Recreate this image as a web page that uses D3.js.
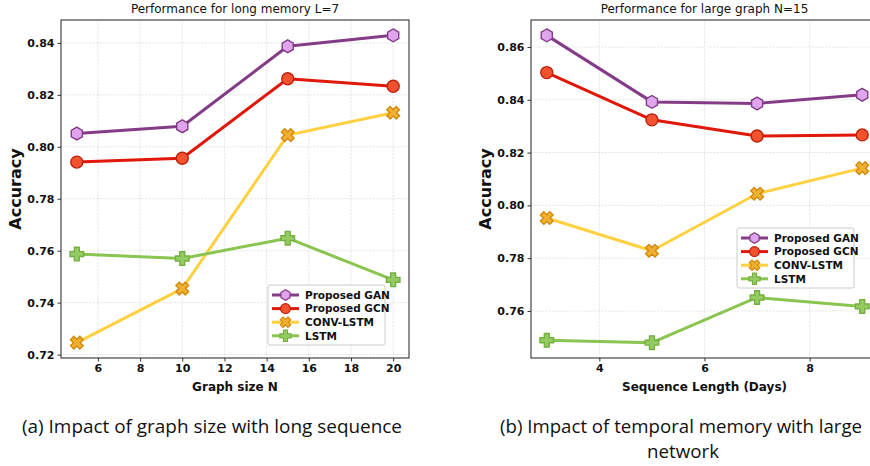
<!DOCTYPE html>
<html>
<head>
<meta charset="utf-8">
<script src="https://cdn.jsdelivr.net/npm/d3@7"></script>
<style>
  body { margin: 0; background: #fff; }
  svg { display: block; font-family: "DejaVu Sans", sans-serif; }
</style>
</head>
<body>
<div id="chart"></div>
<script>
// series names
const seriesNames = ["Proposed GAN", "Proposed GCN", "CONV-LSTM", "LSTM"];

// panel (a): accuracy vs graph size N (L=7)
const graphSizes = [5, 10, 15, 20];
const ganA = [0.8051, 0.8079, 0.8387, 0.8429];
const gcnA = [0.7941, 0.7956, 0.8262, 0.8233];
const convA = [0.7246, 0.7454, 0.8045, 0.8131];
const lstmA = [0.7587, 0.7570, 0.7648, 0.7488];
const xTicksA = [6, 8, 10, 12, 14, 16, 18, 20];
const yTicksA = [0.72, 0.74, 0.76, 0.78, 0.80, 0.82, 0.84];

// panel (b): accuracy vs sequence length (N=15)
const seqLengths = [3, 5, 7, 9];
const ganB = [0.8644, 0.8392, 0.8386, 0.8419];
const gcnB = [0.8503, 0.8324, 0.8263, 0.8267];
const convB = [0.7952, 0.7828, 0.8044, 0.8141];
const lstmB = [0.7489, 0.7480, 0.7651, 0.7617];
const xTicksB = [4, 6, 8];
const yTicksB = [0.76, 0.78, 0.80, 0.82, 0.84, 0.86];

// style per series
const styles = [
  { line: "#843c87", fill: "#dfa6ee", stroke: "#843c87", shape: "hex" },
  { line: "#e0180a", fill: "#f2522e", stroke: "#c0200e", shape: "circle" },
  { line: "#ffd040", fill: "#f0b030", stroke: "#d08a10", shape: "x" },
  { line: "#8ac451", fill: "#94cc62", stroke: "#74b040", shape: "plus" }
];

const svg = d3.select("#chart").append("svg")
  .attr("width", 870).attr("height", 466);

function markerPath(shape, r) {
  if (shape === "circle") {
    return d3.arc()({ innerRadius: 0, outerRadius: r, startAngle: 0, endAngle: 2 * Math.PI });
  }
  if (shape === "hex") {
    const pts = d3.range(6).map(i => {
      const a = Math.PI / 3 * i - Math.PI / 2;
      return [r * Math.cos(a), r * Math.sin(a)];
    });
    return "M" + pts.join("L") + "Z";
  }
  // filled plus / x, arm half-width w
  const w = r * 0.36;
  const pts = [[-w, -r], [w, -r], [w, -w], [r, -w], [r, w], [w, w], [w, r], [-w, r], [-w, w], [-r, w], [-r, -w], [-w, -w]];
  if (shape === "x") {
    const c = Math.cos(Math.PI / 4), s = Math.sin(Math.PI / 4);
    return "M" + pts.map(p => [p[0] * c - p[1] * s, p[0] * s + p[1] * c]).join("L") + "Z";
  }
  return "M" + pts.join("L") + "Z";
}

const markerR = { hex: 6.4, circle: 6, x: 6.6, plus: 6.8 };

function drawPanel(opt) {
  const { left, right, top, bottom, xs, series, xTicks, yTicks } = opt;
  const g = svg.append("g");

  const allY = series.flat();
  const xPad = (d3.max(xs) - d3.min(xs)) * 0.05;
  const yPad = (d3.max(allY) - d3.min(allY)) * 0.05;

  const x = d3.scaleLinear()
    .domain([d3.min(xs) - xPad, d3.max(xs) + xPad])
    .range([left, right]);
  const y = d3.scaleLinear()
    .domain([d3.min(allY) - yPad, d3.max(allY) + yPad])
    .range([bottom, top]);

  // grid
  g.append("g").selectAll("line").data(xTicks).join("line")
    .attr("x1", d => x(d)).attr("x2", d => x(d))
    .attr("y1", top).attr("y2", bottom)
    .attr("stroke", "#e2e2e2").attr("stroke-width", 0.8).attr("stroke-dasharray", "2.5,1");
  g.append("g").selectAll("line").data(yTicks).join("line")
    .attr("x1", left).attr("x2", right)
    .attr("y1", d => y(d)).attr("y2", d => y(d))
    .attr("stroke", "#e2e2e2").attr("stroke-width", 0.8).attr("stroke-dasharray", "2.5,1");

  // axes
  const xAxis = g.append("g")
    .attr("transform", `translate(0,${bottom})`)
    .call(d3.axisBottom(x).tickValues(xTicks).tickSize(3.5).tickPadding(3).tickFormat(d3.format("d")));
  const yAxis = g.append("g")
    .attr("transform", `translate(${left},0)`)
    .call(d3.axisLeft(y).tickValues(yTicks).tickSize(3.5).tickPadding(3).tickFormat(d3.format(".2f")));
  [xAxis, yAxis].forEach(a => {
    a.select(".domain").remove();
    a.selectAll("line").attr("stroke", "#333");
    a.selectAll("text").attr("font-family", "DejaVu Sans").attr("font-size", 11)
      .attr("font-weight", "bold").attr("fill", "#111");
  });

  // frame
  g.append("rect")
    .attr("x", left).attr("y", top)
    .attr("width", right - left).attr("height", bottom - top)
    .attr("fill", "none").attr("stroke", "#333").attr("stroke-width", 1.1);

  // lines and markers
  const line = d3.line().x((d, i) => x(xs[i])).y(d => y(d));
  series.forEach((vals, k) => {
    const st = styles[k];
    g.append("path").datum(vals)
      .attr("d", line)
      .attr("fill", "none").attr("stroke", st.line)
      .attr("stroke-width", 3).attr("stroke-linejoin", "round");
    g.append("g").selectAll("path").data(vals).join("path")
      .attr("transform", (d, i) => `translate(${x(xs[i])},${y(d)})`)
      .attr("d", markerPath(st.shape, markerR[st.shape]))
      .attr("fill", st.fill).attr("stroke", st.stroke).attr("stroke-width", 1.4);
  });

  // title & labels
  g.append("text")
    .attr("x", (left + right) / 2).attr("y", 13)
    .attr("text-anchor", "middle").attr("font-size", 12).attr("fill", "#111")
    .text(opt.title);
  g.append("text")
    .attr("x", (left + right) / 2).attr("y", 391)
    .attr("text-anchor", "middle").attr("font-size", 12).attr("font-weight", "bold").attr("fill", "#111")
    .text(opt.xLabel);
  g.append("text")
    .attr("transform", `translate(${opt.yLabelX},${(top + bottom) / 2}) rotate(-90)`)
    .attr("text-anchor", "middle").attr("font-size", 16).attr("font-weight", "bold").attr("fill", "#111")
    .text("Accuracy");

  // legend
  const lg = g.append("g").attr("transform", `translate(${opt.legendX},${opt.legendY})`);
  lg.append("rect")
    .attr("width", 117).attr("height", 60).attr("rx", 2)
    .attr("fill", "#fff").attr("fill-opacity", 0.85)
    .attr("stroke", "#ccc").attr("stroke-width", 1);
  seriesNames.forEach((name, k) => {
    const st = styles[k];
    const ly = 10 + k * 13.6;
    lg.append("line")
      .attr("x1", 4).attr("x2", 31).attr("y1", ly).attr("y2", ly)
      .attr("stroke", st.line).attr("stroke-width", 3);
    lg.append("path")
      .attr("transform", `translate(17.5,${ly})`)
      .attr("d", markerPath(st.shape, markerR[st.shape] * 0.82))
      .attr("fill", st.fill).attr("stroke", st.stroke).attr("stroke-width", 1.2);
    lg.append("text")
      .attr("x", 37).attr("y", ly + 3.8)
      .attr("font-size", 10.5).attr("font-weight", "bold").attr("fill", "#111")
      .text(name);
  });
}

drawPanel({
  left: 61, right: 409, top: 20, bottom: 358,
  xs: graphSizes, series: [ganA, gcnA, convA, lstmA],
  xTicks: xTicksA, yTicks: yTicksA,
  title: "Performance for long memory L=7",
  xLabel: "Graph size N", yLabelX: 21,
  legendX: 268, legendY: 285
});

drawPanel({
  left: 531, right: 878, top: 20, bottom: 358,
  xs: seqLengths, series: [ganB, gcnB, convB, lstmB],
  xTicks: xTicksB, yTicks: yTicksB,
  title: "Performance for large graph N=15",
  xLabel: "Sequence Length (Days)", yLabelX: 491,
  legendX: 737, legendY: 228
});

// sub-figure captions
const capFont = "'Liberation Sans Narrow', 'Open Sans', sans-serif";
svg.append("text")
  .attr("x", 212).attr("y", 433).attr("text-anchor", "middle")
  .attr("font-family", capFont).attr("font-size", 19).attr("fill", "#111")
  .attr("textLength", 380).attr("lengthAdjust", "spacingAndGlyphs")
  .text("(a) Impact of graph size with long sequence");
svg.append("text")
  .attr("x", 681).attr("y", 433).attr("text-anchor", "middle")
  .attr("font-family", capFont).attr("font-size", 18.5).attr("fill", "#111")
  .attr("textLength", 362).attr("lengthAdjust", "spacingAndGlyphs")
  .text("(b) Impact of temporal memory with large");
svg.append("text")
  .attr("x", 683).attr("y", 458).attr("text-anchor", "middle")
  .attr("font-family", capFont).attr("font-size", 19).attr("fill", "#111")
  .attr("textLength", 72).attr("lengthAdjust", "spacingAndGlyphs")
  .text("network");
</script>
</body>
</html>
